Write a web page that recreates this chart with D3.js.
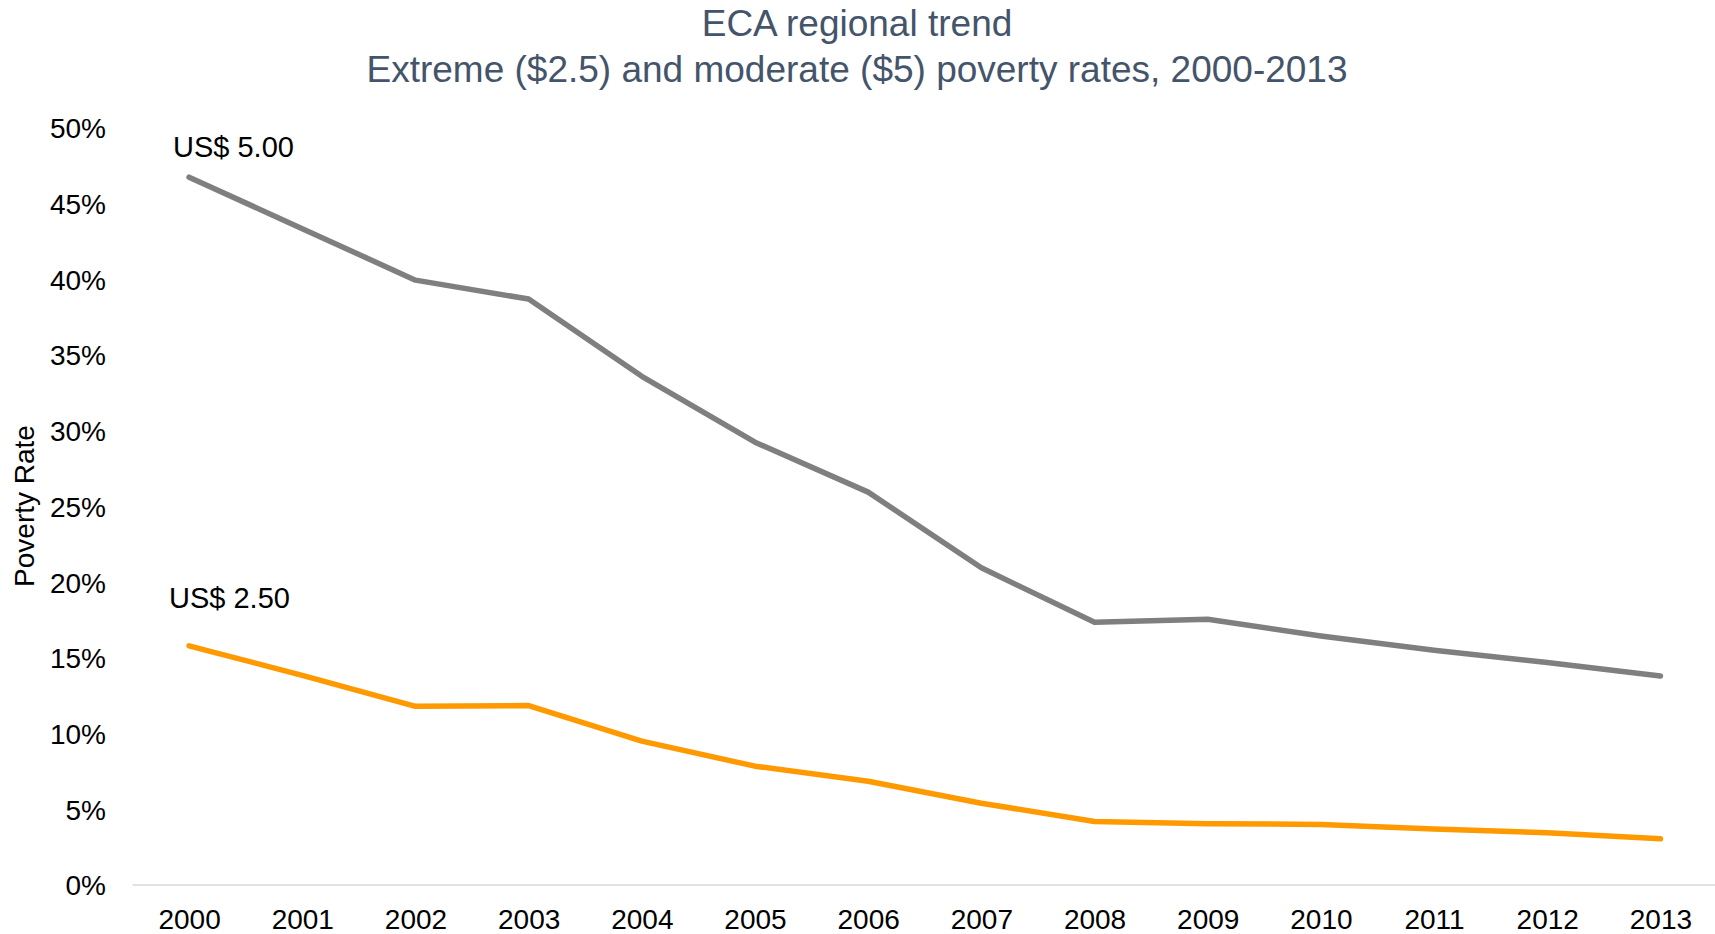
<!DOCTYPE html>
<html>
<head>
<meta charset="utf-8">
<script src="https://cdn.jsdelivr.net/npm/d3@7"></script>
<style>
  html, body { margin: 0; padding: 0; background: #ffffff; }
  svg { display: block; font-family: "Liberation Sans", Arial, sans-serif; }
</style>
</head>
<body>
<svg id="chart" width="1715" height="934"></svg>
<script>
const years = ["2000","2001","2002","2003","2004","2005","2006","2007","2008","2009","2010","2011","2012","2013"];
const moderate = [46.75, 43.35, 39.95, 38.7, 33.6, 29.25, 25.95, 20.95, 17.35, 17.55, 16.45, 15.5, 14.7, 13.8];
const extreme  = [15.8, 13.85, 11.8, 11.85, 9.5, 7.85, 6.85, 5.4, 4.2, 4.05, 4.0, 3.7, 3.45, 3.05];
const yTicks = [0, 5, 10, 15, 20, 25, 30, 35, 40, 45, 50];
const titleLines = ["ECA regional trend", "Extreme ($2.5) and moderate ($5) poverty rates, 2000-2013"];
const seriesLabels = ["US$ 5.00", "US$ 2.50"];
const yAxisTitle = "Poverty Rate";

(function () {
const svg = d3.select("#chart");
const W = 1715;
const mLeft = 132.5, mRight = 1717, mTop = 128, mBottom = 885;

const x = d3.scalePoint().domain(years).range([mLeft, mRight]).padding(0.5);
const y = d3.scaleLinear().domain([0, 50]).range([mBottom, mTop]);

// title
svg.append("g").selectAll("text").data(titleLines).join("text")
  .attr("x", 857).attr("y", (d, i) => 36 + i * 46)
  .attr("text-anchor", "middle")
  .attr("fill", "#44546a")
  .attr("font-size", 37)
  .text(d => d);

// y axis (labels only)
const yAxis = d3.axisLeft(y).tickValues(yTicks).tickFormat(d => d + "%").tickSize(0).tickPadding(0);
const gy = svg.append("g").attr("transform", "translate(106,0)").call(yAxis);
gy.select(".domain").remove();
gy.selectAll("text").attr("font-size", 28).attr("fill", "#000").attr("font-family", "Liberation Sans, Arial, sans-serif").attr("dy", "0.35em");

// x axis
const xAxis = d3.axisBottom(x).tickSize(0).tickPadding(0);
const gx = svg.append("g").attr("transform", `translate(0,${mBottom})`).call(xAxis);
gx.select(".domain").attr("stroke", "#d9d9d9").attr("stroke-width", 1.5)
  .attr("d", `M${mLeft},0H${W}`);
gx.selectAll("text").attr("font-size", 28).attr("fill", "#000").attr("font-family", "Liberation Sans, Arial, sans-serif").attr("y", 0).attr("dy", 44);

// y axis title
svg.append("text")
  .attr("transform", "translate(34,506) rotate(-90)")
  .attr("text-anchor", "middle")
  .attr("font-size", 28)
  .attr("fill", "#000")
  .text(yAxisTitle);

// lines
const line = d3.line().x((d, i) => x(years[i])).y(d => y(d));
const series = [
  { values: moderate, color: "#7f7f7f" },
  { values: extreme, color: "#ff9900" }
];
svg.append("g").selectAll("path").data(series).join("path")
  .attr("d", d => line(d.values))
  .attr("fill", "none")
  .attr("stroke", d => d.color)
  .attr("stroke-width", 5.5)
  .attr("stroke-linejoin", "round")
  .attr("stroke-linecap", "round");

// series labels
svg.append("text").attr("x", 173).attr("y", 157).attr("font-size", 29).attr("fill", "#000").text(seriesLabels[0]);
svg.append("text").attr("x", 169).attr("y", 608).attr("font-size", 29).attr("fill", "#000").text(seriesLabels[1]);
})();
</script>
</body>
</html>
